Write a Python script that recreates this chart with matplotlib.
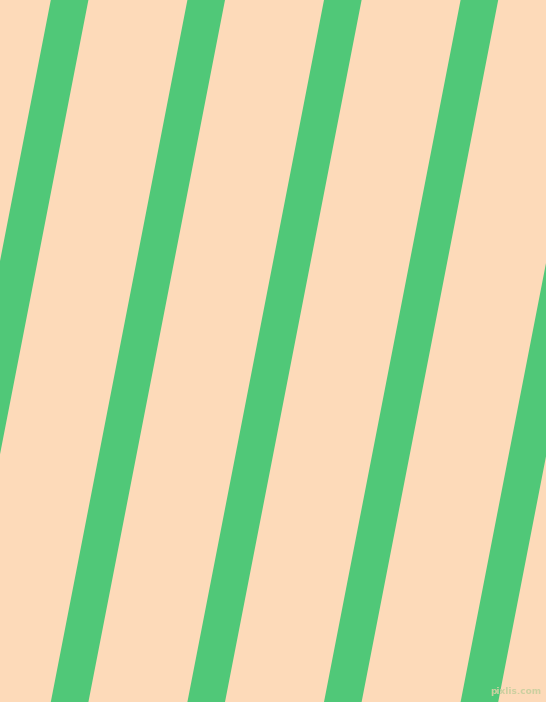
import matplotlib
matplotlib.use("Agg")
import matplotlib.pyplot as plt

W, H = 546, 702
background = "#FDDAB9"
stripe_color = "#50C878"

# stripe left-edge x positions at the top row (y=0)
stripe_top_left = [-85.8, 50.8, 187.4, 324.0, 460.6, 597.2]
stripe_width = 37.6          # horizontal width of a stripe
stripe_drift = -136.6        # horizontal shift from top to bottom

fig = plt.figure(figsize=(W / 100, H / 100), dpi=100)
ax = fig.add_axes([0, 0, 1, 1])
ax.set_xlim(0, W)
ax.set_ylim(H, 0)
ax.axis("off")
fig.patch.set_facecolor(background)
ax.set_facecolor(background)

for x0 in stripe_top_left:
    xs = [x0, x0 + stripe_width, x0 + stripe_width + stripe_drift, x0 + stripe_drift]
    ys = [0, 0, H, H]
    ax.fill(xs, ys, color=stripe_color, linewidth=0, antialiased=True)

ax.text(516, 691, "pixlis.com", fontsize=6.5, color="#CCD0A0",
        ha="center", va="center", family="DejaVu Sans", fontweight="bold")

fig.savefig("out.png", dpi=100, facecolor=background)
